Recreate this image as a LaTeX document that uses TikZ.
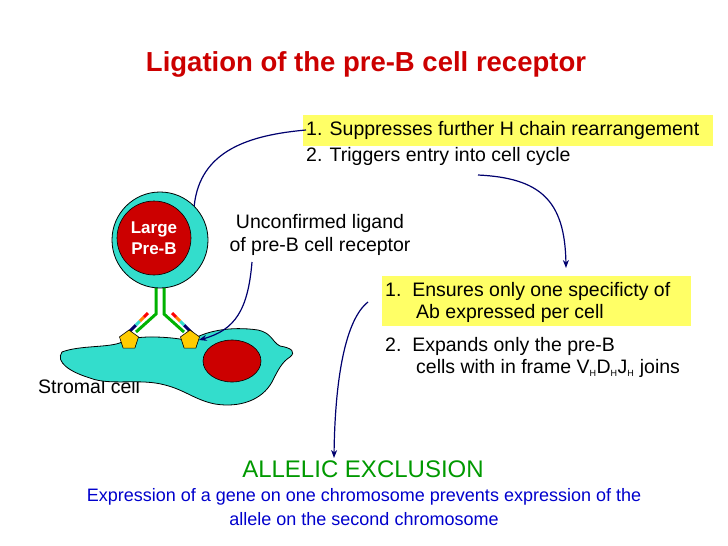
\documentclass[tikz,border=0pt]{standalone}
\usepackage{fontspec}
\setmainfont{Liberation Sans}
\usetikzlibrary{arrows.meta,shapes.geometric}
\definecolor{tred}{RGB}{204,0,0}
\definecolor{cyanc}{RGB}{51,221,204}
\definecolor{nuc}{RGB}{204,0,0}
\definecolor{navy}{RGB}{0,0,110}
\definecolor{hl}{RGB}{255,255,102}
\definecolor{gtxt}{RGB}{0,153,0}
\definecolor{btxt}{RGB}{0,0,204}
\definecolor{pent}{RGB}{255,204,0}
\newcommand{\subH}{\textsubscript{\fontsize{9}{10}\selectfont H}}
\begin{document}
\begin{tikzpicture}[x=1pt,y=-1pt,
  txt/.style={font=\fontsize{19.5}{23}\selectfont, anchor=west, inner sep=0},
  arr/.style={navy, line width=1.2pt, -{Stealth[length=8pt,width=6pt]}}]
\useasboundingbox (0,0) rectangle (728,546);
% title
\node (title) at (366,64) {\fontsize{27.5}{32}\selectfont\bfseries\color{tred}Ligation of the pre-B cell receptor};
% highlighted boxes
\fill[hl] (303,115) rectangle (713,146);
\fill[hl] (382,276) rectangle (691,326);
\node[txt] (s1) at (306,130) {1. Suppresses further H chain rearrangement};
\node[txt] (s2) at (306,156) {2. Triggers entry into cell cycle};
\node[txt] (e1) at (385,291) {1.\ \ Ensures only one specificty of};
\node[txt] (e1b) at (416,313) {Ab expressed per cell};
\node[txt] (e2) at (385,346) {2.\ \ Expands only the pre-B};
\node[txt] (e2b) at (416,368) {cells with in frame V\subH D\subH J\subH\ joins};
\node[font=\fontsize{19.5}{23}\selectfont, align=center] (lig) at (320,235) {Unconfirmed ligand\\of pre-B cell receptor};
\node[txt] (strom) at (38,387) {Stromal cell};
\node[font=\fontsize{24}{28}\selectfont, text=gtxt] (ae) at (363,469) {ALLELIC EXCLUSION};
\node[font=\fontsize{18}{24}\selectfont, text=btxt, align=center] (def) at (364,507) {Expression of a gene on one chromosome prevents expression of the\\allele on the second chromosome};
% stromal cell
\draw[fill=cyanc, line width=0.8pt] (62,352) .. controls (80,345) and (110,348) .. (122,342)
 .. controls (135,334) and (175,337) .. (190,341)
 .. controls (205,331) and (230,326) .. (258,330)
 .. controls (272,333) and (272,342) .. (280,346)
 .. controls (292,348) and (296,352) .. (290,357)
 .. controls (282,362) and (278,370) .. (272,382)
 .. controls (262,400) and (240,408) .. (215,404)
 .. controls (195,400) and (185,390) .. (165,385)
 .. controls (140,378) and (110,386) .. (90,378)
 .. controls (70,372) and (55,362) .. (62,352) -- cycle;
\node[ellipse, fill=nuc, draw=black, line width=0.6pt, minimum width=58pt, minimum height=42pt] (snuc) at (232,361) {};
% receptor
\draw[green!70!black, line width=3pt] (156,288) -- (156,314) -- (136,332);
\draw[green!70!black, line width=3pt] (164,288) -- (164,314) -- (184,332);
\draw[navy, line width=3pt] (136,325) -- (128,333);
\draw[cyanc, line width=3pt] (140,321) -- (136,325);
\draw[orange, line width=3pt] (144,317) -- (140,321);
\draw[red, line width=3pt] (148,313) -- (144,317);
\draw[navy, line width=3pt] (184,325) -- (192,333);
\draw[cyanc, line width=3pt] (180,321) -- (184,325);
\draw[orange, line width=3pt] (176,317) -- (180,321);
\draw[red, line width=3pt] (172,313) -- (176,317);
\node[regular polygon, regular polygon sides=5, fill=pent, draw=black, line width=0.6pt, minimum size=20pt, inner sep=0] (p1) at (129,340) {};
\node[regular polygon, regular polygon sides=5, fill=pent, draw=black, line width=0.6pt, minimum size=20pt, inner sep=0] (p2) at (190,340) {};
% pre-B cell
\node[circle, fill=cyanc, draw=black, line width=0.8pt, minimum size=96pt] (cell) at (160,240) {};
\node[circle, fill=nuc, draw=black, line width=0.6pt, minimum size=74pt, align=center, text=white, font=\fontsize{17}{21}\selectfont\bfseries] (nucl) at (154,238) {Large\\Pre-B};
% arrows
\draw[arr, -] (cell.north east) .. controls (200,150) and (250,135) .. (s1.west);
\draw[arr] (478,175) .. controls (540,178) and (565,200) .. (566,268);
\draw[arr] (252,262) .. controls (248,310) and (235,330) .. (p2.east);
\draw[arr] (368,302) .. controls (345,320) and (335,380) .. (334,458);
\end{tikzpicture}
\end{document}
